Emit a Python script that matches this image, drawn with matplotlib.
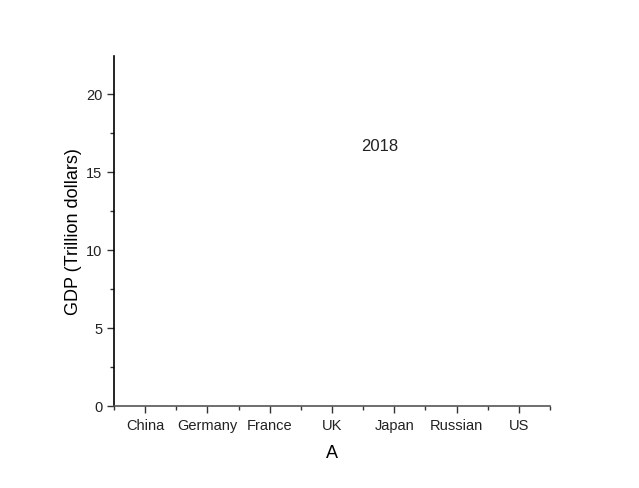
import matplotlib.pyplot as plt
from matplotlib.ticker import MultipleLocator, FixedLocator

# Kategorien und Beschriftungen
countries = ["China", "Germany", "France", "UK", "Japan", "Russian", "US"]
year_label = "2018"
year_pos = (4.76, 16.7)

plt.rcParams['font.family'] = ['Liberation Sans', 'DejaVu Sans']

fig = plt.figure(figsize=(6.39, 4.89), dpi=100)
ax = fig.add_axes([0.1784, 0.1677, 0.6823, 0.7157])

positions = list(range(1, len(countries) + 1))
ax.set_xlim(0.5, len(countries) + 0.5)
ax.set_ylim(0, 22.4)

ax.set_xticks(positions)
ax.set_xticklabels(countries, fontsize=10.5)
ax.xaxis.set_minor_locator(FixedLocator([p + 0.5 for p in positions[:-1]] + [0.5, 7.5]))
ax.yaxis.set_major_locator(MultipleLocator(5))
ax.yaxis.set_minor_locator(MultipleLocator(2.5))
ax.tick_params(axis='y', labelsize=10.5)

ax.tick_params(which='major', direction='out', length=5, width=1, color='#333333')
ax.tick_params(which='minor', direction='out', length=3, width=1, color='#333333')
ax.tick_params(labelcolor='#222222')

ax.spines['top'].set_visible(False)
ax.spines['right'].set_visible(False)
ax.spines['left'].set_linewidth(1.2)
ax.spines['bottom'].set_linewidth(1.2)
ax.spines['bottom'].set_color('#555555')

ax.set_xlabel("A", fontsize=13, labelpad=9)
ax.set_ylabel("GDP (Trillion dollars)", fontsize=13, labelpad=3)

# Jahr als Beschriftung
ax.text(year_pos[0], year_pos[1], year_label, fontsize=12, ha='center', va='center', color='#222222')

plt.savefig("out.png", dpi=100)
